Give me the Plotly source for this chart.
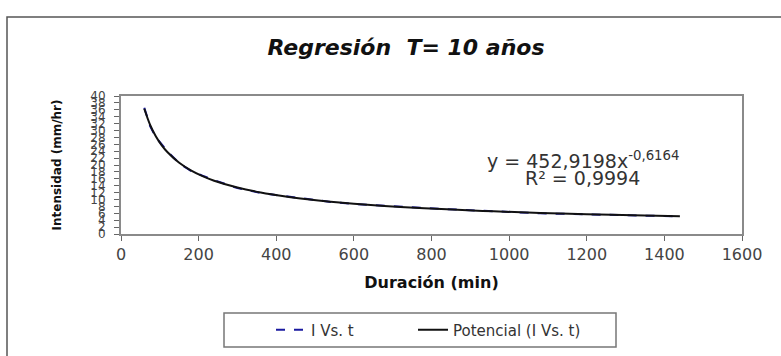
import plotly.graph_objects as go

# Data
durations = [60, 75, 90, 105, 120, 150, 180, 210, 240, 300, 360, 420, 480, 540,
             600, 720, 840, 960, 1080, 1200, 1320, 1440]
intensity_obs = [36.6, 31.3, 28.0, 25.9, 23.9, 20.5, 18.3, 16.9, 15.6, 13.3, 11.9,
                 11.0, 10.1, 9.3, 8.7, 7.9, 7.2, 6.6, 6.0, 5.7, 5.4, 5.1]
intensity_fit = [36.30, 31.64, 28.28, 25.71, 23.68, 20.64, 18.44, 16.77, 15.45, 13.46,
                 12.03, 10.94, 10.08, 9.37, 8.78, 7.85, 7.14, 6.57, 6.11, 5.73, 5.40, 5.12]
x_ticks = [0, 200, 400, 600, 800, 1000, 1200, 1400, 1600]
y_ticks = list(range(0, 42, 2))

FONT = "DejaVu Sans"
W, H = 781, 356
L, R, T, B = 121, 742, 96, 234

fig = go.Figure()
fig.add_trace(go.Scatter(x=durations, y=intensity_obs, mode="lines", name="I Vs. t",
                         legend="legend",
                         line=dict(color="#1a1aa0", width=2, dash="dash")))
fig.add_trace(go.Scatter(x=durations, y=intensity_fit, mode="lines", name="Potencial (I Vs. t)",
                         legend="legend2",
                         line=dict(color="#111111", width=2, shape="spline")))

def px(xp):
    return (xp - L) / (R - L)

def py(yp):
    return (B - yp) / (B - T)

leg_font = dict(family=FONT, size=15, color="#333333")

fig.update_layout(
    width=W, height=H,
    margin=dict(l=L, r=W - R, t=T, b=H - B, autoexpand=False),
    paper_bgcolor="white", plot_bgcolor="white",
    font=dict(family=FONT, color="#222222"),
    title=dict(text="<b><i>Regresión  T= 10 años</i></b>", x=406 / W, xanchor="center",
               y=1 - 47 / H, yanchor="middle", font=dict(family=FONT, size=22, color="#111111")),
    showlegend=True,
    legend=dict(orientation="h", x=px(271), xanchor="left", y=py(330), yanchor="middle",
                borderwidth=0, bgcolor="rgba(0,0,0,0)", font=leg_font),
    legend2=dict(orientation="h", x=px(413), xanchor="left", y=py(330), yanchor="middle",
                 borderwidth=0, bgcolor="rgba(0,0,0,0)", font=leg_font),
    xaxis=dict(range=[0, 1600], tickvals=x_ticks, showgrid=False, zeroline=False,
               showline=True, linecolor="#8a8a8a", linewidth=2, mirror=True,
               ticks="outside", ticklen=5, tickcolor="#666666",
               tickfont=dict(family=FONT, size=16, color="#444444"),
               title=dict(text="<b>Duración (min)</b>", standoff=14,
                          font=dict(family=FONT, size=16, color="#111111"))),
    yaxis=dict(range=[0, 40], tickvals=y_ticks, showgrid=False, zeroline=False,
               showline=True, linecolor="#8a8a8a", linewidth=2, mirror=True,
               ticks="outside", ticklen=5, tickcolor="#666666",
               ticklabelstandoff=6,
               tickfont=dict(family=FONT, size=12, color="#444444"),
               title=dict(text="<b>Intensidad (mm/hr)</b>", standoff=26,
                          font=dict(family=FONT, size=12, color="#111111"))),
    annotations=[
        dict(text="y = 452,9198x<sup>-0,6164</sup>", xref="paper", yref="paper",
             x=px(583), y=py(160), xanchor="center", yanchor="middle", showarrow=False,
             font=dict(family=FONT, size=19, color="#333333")),
        dict(text="R² = 0,9994", xref="paper", yref="paper",
             x=px(582), y=py(178), xanchor="center", yanchor="middle", showarrow=False,
             font=dict(family=FONT, size=19, color="#333333")),
    ],
    shapes=[
        dict(type="rect", xref="paper", yref="paper", x0=px(7), x1=px(800), y0=py(400), y1=py(17),
             line=dict(color="#555555", width=1.5), fillcolor="rgba(0,0,0,0)", layer="below"),
        dict(type="rect", xref="paper", yref="paper", x0=px(224), x1=px(616), y0=py(347), y1=py(313),
             line=dict(color="#777777", width=1.5), fillcolor="white", layer="below"),
    ],
)

fig.write_html("out.html", config={"displayModeBar": False},
               post_script="document.body.style.margin='0';")
